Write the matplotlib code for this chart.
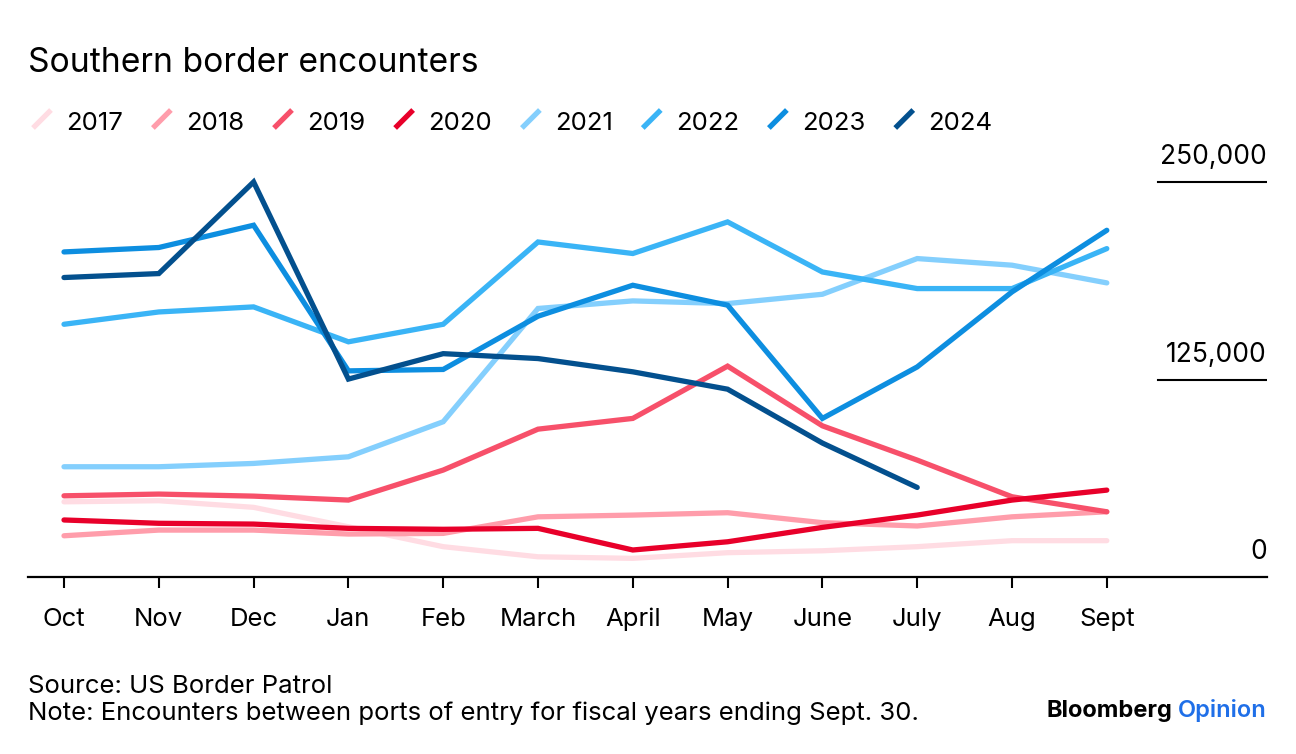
import matplotlib
matplotlib.use("Agg")
import matplotlib.pyplot as plt
from matplotlib.lines import Line2D

# ==========================
# Data
# ==========================
months = ["Oct", "Nov", "Dec", "Jan", "Feb", "March", "April", "May",
          "June", "July", "Aug", "Sept"]

years = ["2017", "2018", "2019", "2020", "2021", "2022", "2023", "2024"]

fy2017 = [47600, 48300, 44100, 31800, 19200, 12800, 11800, 15400, 16600, 19200, 23000, 23000]
fy2018 = [26100, 29700, 29700, 27200, 27600, 38100, 39200, 40700, 34400, 32300, 38100, 41300]
fy2019 = [51400, 52500, 51200, 48700, 67700, 93600, 100400, 133500, 95700, 74000, 50800, 41300]
fy2020 = [36100, 34000, 33500, 30800, 30200, 30800, 17100, 22300, 31400, 39200, 48700, 55000]
fy2021 = [69800, 69800, 71900, 76100, 98300, 170000, 174800, 173100, 179000, 201600, 197400, 186200]
fy2022 = [160000, 167800, 171000, 148900, 160000, 212100, 204800, 224800, 193100, 182600, 182600, 207900]
fy2023 = [205800, 208600, 222700, 130500, 131400, 165100, 184700, 172100, 100400, 133000, 180500, 219500]
fy2024 = [189600, 192100, 250100, 125300, 141400, 138300, 129900, 118900, 84800, 56700]

series = [fy2017, fy2018, fy2019, fy2020, fy2021, fy2022, fy2023, fy2024]

colors = ["#ffdce3", "#ff9dab", "#f7506a", "#e8002a",
          "#84cffd", "#3ab4f6", "#0d8ee0", "#03508e"]

yticks = [0, 125000, 250000]

# ==========================
# Figure
# ==========================
plt.rcParams["font.family"] = ["Inter", "DejaVu Sans"]

W, H = 1296, 754
fig = plt.figure(figsize=(W / 100, H / 100), dpi=100)


def fx(x):
    return x / W


def fy(y):
    return 1 - y / H


ax = fig.add_axes([fx(28), fy(577), (1267 - 28) / W, (577 - 160) / H])

x = list(range(len(months)))
for vals, col in zip(series, colors):
    ax.plot(x[:len(vals)], vals, color=col, lw=3.8,
            solid_capstyle="round", solid_joinstyle="miter")

step = 94.8
ax.set_xlim(-36 / step, -36 / step + 1239 / step)
ax.set_ylim(0, 264000)

for s in ["top", "left", "right"]:
    ax.spines[s].set_visible(False)
ax.spines["bottom"].set_linewidth(1.6)

# month labels sit on a common baseline
ax.set_xticks(x)
ax.set_xticklabels(months, fontsize=18.5)
ax.tick_params(axis="x", length=8, width=1.5, pad=27)
for lbl in ax.get_xticklabels():
    lbl.set_verticalalignment("baseline")
ax.set_yticks([])

for v in yticks:
    ax.annotate(f"{v:,}", xy=(1, v), xycoords=("axes fraction", "data"),
                xytext=(0, 13), textcoords="offset points",
                ha="right", va="baseline", fontsize=19)
    if v > 0:
        ax.axhline(v, xmin=(1158 - 28) / 1239, xmax=1, color="black", lw=1.5)

# ==========================
# Title and legend
# ==========================
fig.text(fx(28), fy(72), "Southern border encounters", fontsize=24.2,
         ha="left", va="baseline")

renderer = fig.canvas.get_renderer()
ex = 30
for yr, col in zip(years, colors):
    fig.add_artist(Line2D([fx(ex + 3), fx(ex + 21)], [fy(128), fy(110)],
                          transform=fig.transFigure, color=col, lw=3.8,
                          solid_capstyle="butt"))
    t = fig.text(fx(ex + 36), fy(130), yr, fontsize=18.5,
                 ha="left", va="baseline")
    bb = t.get_window_extent(renderer)
    ex = bb.x1 + 27

# ==========================
# Footer
# ==========================
fig.text(fx(28), fy(693), "Source: US Border Patrol", fontsize=18.5,
         ha="left", va="baseline")
fig.text(fx(28), fy(720),
         "Note: Encounters between ports of entry for fiscal years ending Sept. 30.",
         fontsize=18.5, ha="left", va="baseline")

op = fig.text(fx(1267), fy(717), "Opinion", fontsize=17, color="#1f6fe8",
              fontweight="semibold", ha="right", va="baseline")
bb = op.get_window_extent(renderer)
fig.text(bb.x0 / W - 6 / W, fy(717), "Bloomberg", fontsize=17,
         fontweight="bold", ha="right", va="baseline")

fig.savefig("out.png", dpi=100)
